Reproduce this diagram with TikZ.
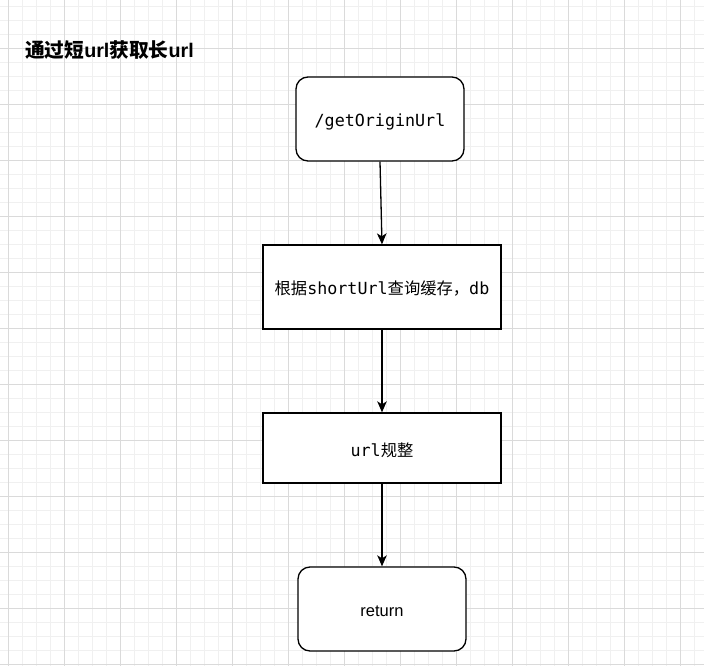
\documentclass[tikz,border=0pt]{standalone}
\usepackage{fontspec}
\setmainfont{Liberation Sans}
\newfontfamily\cjk{Noto Sans CJK SC}
\newfontfamily\mono{DejaVu Sans Mono}
\usetikzlibrary{arrows.meta}
\definecolor{gridminor}{HTML}{F0F0F0}
\definecolor{gridmajor}{HTML}{DADADA}
\tikzset{
  minorline/.style={draw=gridminor, line width=1pt},
  majorline/.style={draw=gridmajor, line width=1pt},
  procbox/.style={draw=black, line width=1.3pt, fill=white, inner sep=0pt},
  termbox/.style={procbox, rounded corners=12pt},
  boxtext/.style={inner sep=0pt, align=center},
  flow/.style={draw=black, line width=1.3pt, -{Stealth[length=11pt,width=9.5pt,inset=3pt]}},
}
\newcommand{\cj}[1]{{\cjk\fontsize{16.3}{20}\selectfont #1}}
\newcommand{\mn}[1]{{\mono\fontsize{16.7}{20}\selectfont #1}}
\begin{document}
\begin{tikzpicture}[x=1pt,y=-1pt]
\useasboundingbox (0,0) rectangle (704,666);
\fill[white] (0,0) rectangle (704,666);
% grid
\foreach \i in {0,...,49} {
  \pgfmathsetmacro\gx{8.3+14*\i}
  \draw[minorline] (\gx,0) -- (\gx,666);
}
\foreach \i in {0,...,47} {
  \pgfmathsetmacro\gy{6.5+14*\i}
  \draw[minorline] (0,\gy) -- (704,\gy);
}
\foreach \i in {0,...,12} {
  \pgfmathsetmacro\gx{8.3+56*\i}
  \draw[majorline] (\gx,0) -- (\gx,666);
}
\foreach \i in {0,...,11} {
  \pgfmathsetmacro\gy{48.5+56*\i}
  \draw[majorline] (0,\gy) -- (704,\gy);
}
% title
\node[anchor=west, inner sep=0pt] (title) at (25,50.5)
  {\bfseries\fontsize{19.7}{22}\selectfont{\cjk 通过短}url{\cjk 获取长}url};
% boxes
\node[termbox, minimum width=168pt, minimum height=84pt] (b1) at (380,119) {};
\node[procbox, minimum width=238pt, minimum height=84pt] (b2) at (382,287) {};
\node[procbox, minimum width=238pt, minimum height=70pt] (b3) at (382,448) {};
\node[termbox, minimum width=168pt, minimum height=84pt] (b4) at (382,609) {};
% texts
\node[boxtext] (t1) at ([yshift=-2.5pt]b1.center) {\mn{/getOriginUrl}};
\node[boxtext] (t2) at ([yshift=-2pt]b2.center) {\cj{根据}\mn{shortUrl}\cj{查询缓存，}\mn{db}};
\node[boxtext] (t3) at ([yshift=-2pt]b3.center) {\mn{url}\cj{规整}};
\node[boxtext] (t4) at ([yshift=-2pt]b4.center) {\fontsize{16.5}{20}\selectfont return};
% connectors
\draw[flow] (b1.south) -- (b2.north);
\draw[flow] (b2.south) -- (b3.north);
\draw[flow] (b3.south) -- (b4.north);
\end{tikzpicture}
\end{document}
